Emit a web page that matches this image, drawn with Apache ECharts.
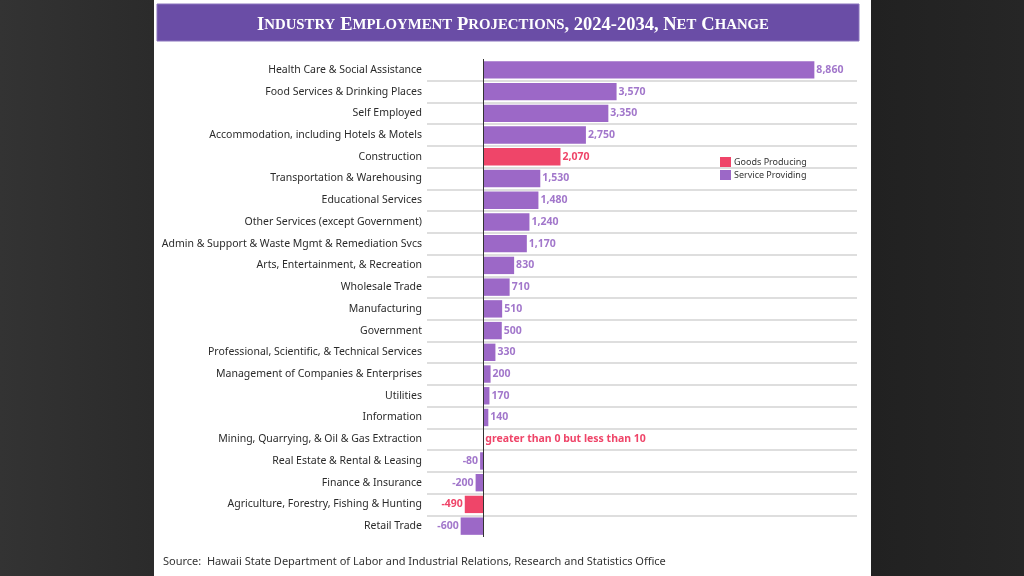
<!DOCTYPE html>
<html>
<head>
<meta charset="utf-8">
<script src="https://cdn.jsdelivr.net/npm/echarts@6/dist/echarts.min.js"></script>
<style>html,body{margin:0;padding:0;background:#2a2a2a;}#c{width:1024px;height:576px;}</style>
</head>
<body>
<div id="c"></div>
<script>
const categories = [
  'Health Care & Social Assistance',
  'Food Services & Drinking Places',
  'Self Employed',
  'Accommodation, including Hotels & Motels',
  'Construction',
  'Transportation & Warehousing',
  'Educational Services',
  'Other Services (except Government)',
  'Admin & Support & Waste Mgmt & Remediation Svcs',
  'Arts, Entertainment, & Recreation',
  'Wholesale Trade',
  'Manufacturing',
  'Government',
  'Professional, Scientific, & Technical Services',
  'Management of Companies & Enterprises',
  'Utilities',
  'Information',
  'Mining, Quarrying, & Oil & Gas Extraction',
  'Real Estate & Rental & Leasing',
  'Finance & Insurance',
  'Agriculture, Forestry, Fishing & Hunting',
  'Retail Trade'
];
const netChange = [8860, 3570, 3350, 2750, 2070, 1530, 1480, 1240, 1170, 830, 710, 510, 500, 330, 200, 170, 140, 5, -80, -200, -490, -600];
const sector = ['S','S','S','S','G','S','S','S','S','S','S','S','S','S','S','S','S','G','S','S','G','S'];
const seriesNames = ['Goods Producing', 'Service Providing'];
const smallValueNote = 'greater than 0 but less than 10';
const titleText = '{b|I}{s|NDUSTRY} {b|E}{s|MPLOYMENT} {b|P}{s|ROJECTIONS}{b|, 2024-2034, N}{s|ET} {b|C}{s|HANGE}';
const sourceText = 'Source:  Hawaii State Department of Labor and Industrial Relations, Research and Statistics Office';

const PURPLE = '#9c68c7';
const PINK = '#ef4569';

function buildData(code) {
  return netChange.map((v, i) => {
    if (sector[i] !== code) return '-';
    return { value: v, label: { position: v < 0 ? 'left' : 'right' } };
  });
}
function fmt(p) {
  const v = p.value;
  if (v > 0 && v < 10) return smallValueNote;
  return v.toLocaleString('en-US');
}

const chart = echarts.init(document.getElementById('c'));
chart.setOption({
  animation: false,
  graphic: [
    { type: 'rect', z: -20, shape: { x: 0, y: 0, width: 1024, height: 576 },
      style: { fill: new echarts.graphic.LinearGradient(0, 0, 1, 0, [
        { offset: 0, color: '#333333' }, { offset: 0.15, color: '#2b2b2b' },
        { offset: 0.85, color: '#212121' }, { offset: 1, color: '#262626' }]) } },
    { type: 'rect', z: -19, shape: { x: 154, y: 0, width: 717, height: 576 }, style: { fill: '#ffffff' } },
    { type: 'rect', z: -18, shape: { x: 157, y: 4, width: 702, height: 37 }, style: { fill: '#6a4da6', stroke: '#8a74bd', lineWidth: 1 } },
    { type: 'text', z: 10, left: 163, top: 556,
      style: { text: sourceText, fill: '#333333', font: '11px "Noto Sans"' } }
  ],
  title: {
    text: titleText,
    left: 508, top: 11, textAlign: 'center',
    textStyle: {
      rich: {
        b: { fontSize: 18.5, fontWeight: 'bold', fontFamily: 'Liberation Serif', color: '#ffffff' },
        s: { fontSize: 14.8, fontWeight: 'bold', fontFamily: 'Liberation Serif', color: '#ffffff' }
      }
    }
  },
  legend: {
    data: seriesNames,
    orient: 'vertical', left: 715, top: 152,
    itemWidth: 11, itemHeight: 10, itemGap: 3, icon: 'rect',
    textStyle: { fontSize: 9, color: '#333333', fontFamily: 'Noto Sans', padding: [0, 0, 0, -2] }
  },
  grid: { left: 427, right: 167, top: 59, bottom: 39, containLabel: false },
  xAxis: { type: 'value', min: -1500, max: 10000, show: false },
  yAxis: {
    type: 'category', data: categories, inverse: true,
    axisLine: { show: false, onZero: false },
    axisTick: { show: false },
    axisLabel: { margin: 5, fontSize: 10.5, color: '#2b2b2b', fontFamily: 'Noto Sans' },
    splitLine: { show: true, showMinLine: false, showMaxLine: false, lineStyle: { color: '#d3d3d3', width: 1.5 } }
  },
  series: [
    {
      name: seriesNames[0], type: 'bar', data: buildData('G'), barWidth: '80%', barGap: '-100%',
      itemStyle: { color: PINK },
      label: { show: true, formatter: fmt, color: PINK, fontWeight: 'bold', fontSize: 10.5, fontFamily: 'Noto Sans', distance: 2 },
      markLine: { silent: true, symbol: 'none', label: { show: false },
        lineStyle: { color: '#333333', width: 1, type: 'solid' }, data: [{ xAxis: 0 }] }
    },
    {
      name: seriesNames[1], type: 'bar', data: buildData('S'), barWidth: '80%', barGap: '-100%',
      itemStyle: { color: PURPLE },
      label: { show: true, formatter: fmt, color: '#a277cb', fontWeight: 'bold', fontSize: 10.5, fontFamily: 'Noto Sans', distance: 2 }
    }
  ]
});
</script>
</body>
</html>
